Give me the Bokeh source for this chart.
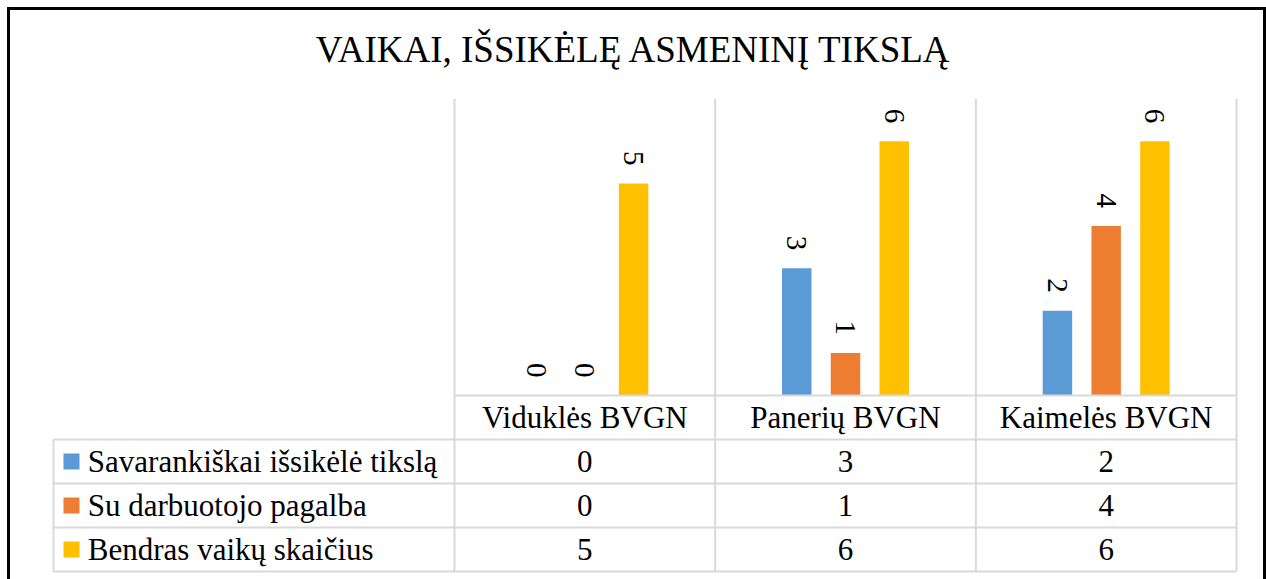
import numpy as np
from bokeh.plotting import figure
from bokeh.models import Range1d
from bokeh.layouts import column
from bokeh.embed import file_html
from bokeh.resources import INLINE
from bokeh.core.properties import value

# ---------------- data ----------------
title_text = "VAIKAI, IŠSIKĖLĘ ASMENINĮ TIKSLĄ"
categories = ["Viduklės BVGN", "Panerių BVGN", "Kaimelės BVGN"]
series_names = ["Savarankiškai išsikėlė tikslą", "Su darbuotojo pagalba", "Bendras vaikų skaičius"]
savarankiskai = [0, 3, 2]
su_pagalba = [0, 1, 4]
bendras = [5, 6, 6]
series_values = [savarankiskai, su_pagalba, bendras]
colors = ["#5B9BD5", "#ED7D31", "#FFC000"]
Y_MAX = 7

# ---------------- layout constants (canvas pixels) ----------------
W, H = 1253, 569
FRAME_L, FRAME_R, FRAME_T = 19, 1228, 0
CAT_L, CAT_R = 444, 1226          # category area (left / right edge)
BASE_Y = 385                      # baseline of bars
PLOT_TOP = 88.3                   # top of plot area
ROW_H = 44                        # table row height
TABLE_L = 43                      # left edge of table
KEY_X = 61                        # legend key centre
NAME_X = 77.3                     # series-name start
TITLE_X, TITLE_Y = 623.5, 39      # title centre
FONT = "Liberation Serif"
GRID = "#D9D9D9"

n = len(categories)
CW = (CAT_R - CAT_L) / n
UPX = (BASE_Y - PLOT_TOP) / Y_MAX

def u(px):
    return (px - CAT_L) / CW

def v(py):
    return (BASE_Y - py) / UPX

p = figure(width=W, height=H, output_backend="svg", toolbar_location=None,
           x_range=Range1d(u(FRAME_L), u(FRAME_R)),
           y_range=Range1d(v(H), v(FRAME_T)),
           min_border_left=FRAME_L, min_border_right=W - FRAME_R,
           min_border_top=FRAME_T, min_border_bottom=0)
p.extra_y_ranges = {"table": Range1d((H - BASE_Y) / ROW_H, -(BASE_Y - FRAME_T) / ROW_H)}
p.xaxis.visible = False
p.yaxis.visible = False
p.grid.visible = False
p.outline_line_color = None
p.background_fill_color = "white"
p.border_fill_color = "white"

# ---------------- title ----------------
p.text(x=[u(TITLE_X)], y=[v(TITLE_Y)], text=[title_text], text_align="center",
       text_baseline="middle", text_font=value(FONT), text_font_size="37px",
       text_color="#000000")

# ---------------- plot-area gridlines ----------------
bounds = np.arange(n + 1)
p.segment(x0=bounds, y0=0, x1=bounds, y1=Y_MAX, line_color=GRID, line_width=2)

# ---------------- bars + labels ----------------
offsets = [-0.187, 0.0, 0.187]
bar_w = 0.113
centers = np.arange(n) + 0.5
for vals, off, col in zip(series_values, offsets, colors):
    xs = centers + off
    p.vbar(x=xs, top=vals, bottom=0, width=bar_w, fill_color=col, line_color=None)
    p.text(x=xs, y=vals, text=[str(val) for val in vals], angle=-np.pi / 2,
           text_align="right", text_baseline="middle", y_offset=-18,
           text_font=value(FONT), text_font_size="29px", text_color="#000000")

# ---------------- data table ----------------
left_u = u(TABLE_L)
nrows = len(series_names) + 1
# horizontal lines
p.segment(x0=[0], y0=[0], x1=[n], y1=[0], line_color=GRID, line_width=2, y_range_name="table")
hr = np.arange(1, nrows + 1)
p.segment(x0=left_u, y0=hr, x1=n, y1=hr, line_color=GRID, line_width=2, y_range_name="table")
# vertical lines
p.segment(x0=bounds, y0=0, x1=bounds, y1=nrows, line_color=GRID, line_width=2, y_range_name="table")
p.segment(x0=[left_u], y0=[1], x1=[left_u], y1=[nrows], line_color=GRID, line_width=2, y_range_name="table")

# header: category names
p.text(x=centers, y=[0.5] * n, text=categories, text_align="center", text_baseline="middle",
       text_font=value(FONT), text_font_size="31px", text_color="#000000", y_range_name="table")

# rows
for i, (name, vals, col) in enumerate(zip(series_names, series_values, colors)):
    ry = i + 1.5
    p.rect(x=[u(KEY_X)], y=[ry], width=16, height=16, width_units="screen", height_units="screen",
           fill_color=col, line_color=None, y_range_name="table")
    p.text(x=[u(NAME_X)], y=[ry], text=[name], text_align="left", text_baseline="middle",
           text_font=value(FONT), text_font_size="31px", text_color="#000000", y_range_name="table")
    p.text(x=centers, y=[ry] * n, text=[str(val) for val in vals], text_align="center",
           text_baseline="middle", text_font=value(FONT), text_font_size="31px",
           text_color="#000000", y_range_name="table")

layout = column(p, margin=(7, 0, 0, 7),
                styles={"border-top": "3px solid #000000",
                        "border-left": "3px solid #000000",
                        "border-right": "3px solid #000000"})

open("out.html", "w").write(file_html(layout, INLINE))
